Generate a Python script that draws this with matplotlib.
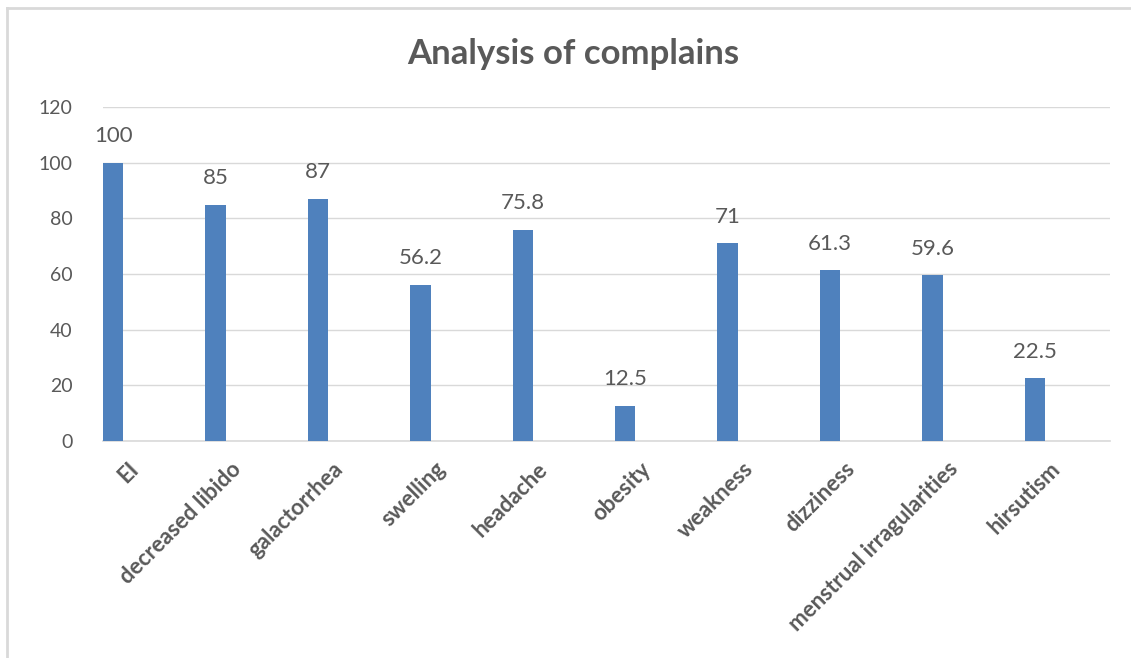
import matplotlib
matplotlib.use('Agg')
import matplotlib.pyplot as plt
import matplotlib.transforms as mtransforms
from matplotlib.lines import Line2D
import numpy as np

# data
kategorie = ['EI', 'decreased libido', 'galactorrhea', 'swelling', 'headache',
             'obesity', 'weakness', 'dizziness', 'menstrual irragularities', 'hirsutism']
hodnoty = [100, 85, 87, 56.2, 75.8, 12.5, 71, 61.3, 59.6, 22.5]
popisky = ['100', '85', '87', '56.2', '75.8', '12.5', '71', '61.3', '59.6', '22.5']

plt.rcParams['font.family'] = ['Lato', 'DejaVu Sans']
seda = '#595959'

fig = plt.figure(figsize=(11.31, 6.58), dpi=100)
ax = fig.add_axes([0.091, 0.330, 0.890, 0.507])

x = np.arange(len(kategorie))
sloupce = ax.bar(x, hodnoty, width=0.2, color='#4F81BD', zorder=3)

# popisky hodnot nad sloupci
for xi, h, t in zip(x, hodnoty, popisky):
    ax.annotate(t, (xi, h), xytext=(0, 12), textcoords='offset points',
                ha='center', va='bottom', fontsize=16, color=seda)

ax.set_ylim(0, 120)
ax.set_yticks(range(0, 121, 20))
ax.set_xlim(-0.1, 9.73)
ax.yaxis.grid(True, color='#D9D9D9', lw=1, zorder=0)
for s in ['top', 'right', 'left']:
    ax.spines[s].set_visible(False)
ax.spines['bottom'].set_color('#D9D9D9')
ax.spines['bottom'].set_linewidth(1.2)
ax.tick_params(axis='both', length=0, labelsize=14, colors=seda)
ax.tick_params(axis='y', pad=22)

ax.set_xticks(x)
ax.set_xticklabels(kategorie, rotation=45, ha='right', va='center',
                   rotation_mode='anchor', fontweight='bold', color=seda, fontsize=16)
posun = mtransforms.ScaledTranslation(22 / 100, -20 / 100, fig.dpi_scale_trans)
for lab in ax.get_xticklabels():
    lab.set_transform(lab.get_transform() + posun)

fig.text(0.507, 0.918, 'Analysis of complains', ha='center', va='center',
         fontsize=25, fontweight='bold', color=seda)

# ramecek grafu
fig.add_artist(Line2D([7 / 1131, 1.0], [1 - 8 / 658, 1 - 8 / 658], color='#D9D9D9', lw=2))
fig.add_artist(Line2D([7 / 1131, 7 / 1131], [0.0, 1 - 8 / 658], color='#D9D9D9', lw=2))

fig.savefig('out.png', dpi=100)
